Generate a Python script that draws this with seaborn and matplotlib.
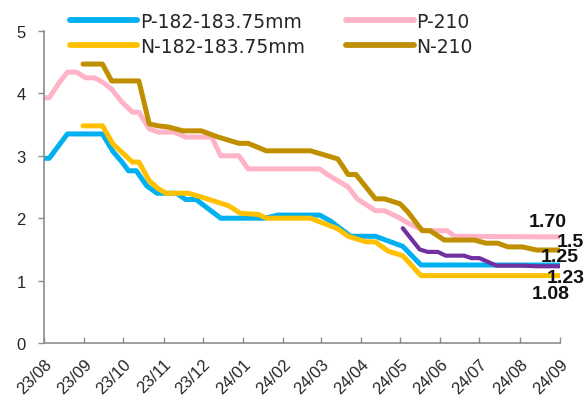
import pandas as pd
import seaborn as sns
import matplotlib.pyplot as plt
import matplotlib.dates as mdates

# data (breakpoints of each line)
p182_dates = ["2023-08-01", "2023-08-05", "2023-08-19", "2023-09-15", "2023-09-23", "2023-09-30",
              "2023-10-05", "2023-10-11", "2023-10-19", "2023-10-27", "2023-11-11", "2023-11-18",
              "2023-11-26", "2023-12-15", "2024-01-18", "2024-01-28", "2024-02-29", "2024-03-08",
              "2024-03-24", "2024-04-12", "2024-05-03", "2024-05-17", "2024-09-01"]
p182_vals = [2.96, 2.96, 3.35, 3.35, 3.07, 2.90, 2.76, 2.76, 2.52, 2.40, 2.40, 2.30,
             2.30, 2.00, 2.00, 2.05, 2.05, 1.96, 1.71, 1.71, 1.55, 1.25, 1.25]

n182_dates = ["2023-08-31", "2023-09-15", "2023-09-23", "2023-10-08", "2023-10-13", "2023-10-21",
              "2023-10-28", "2023-11-03", "2023-11-20", "2023-11-30", "2023-12-21", "2023-12-30",
              "2024-01-13", "2024-01-19", "2024-02-22", "2024-03-14", "2024-03-22", "2024-04-05",
              "2024-04-12", "2024-04-22", "2024-05-03", "2024-05-17", "2024-09-01"]
n182_vals = [3.48, 3.48, 3.19, 2.90, 2.90, 2.60, 2.47, 2.40, 2.40, 2.34, 2.20, 2.08,
             2.06, 2.00, 2.00, 1.83, 1.71, 1.62, 1.62, 1.47, 1.40, 1.08, 1.08]

p210_dates = ["2023-08-01", "2023-08-05", "2023-08-13", "2023-08-19", "2023-08-26", "2023-09-02",
              "2023-09-09", "2023-09-15", "2023-09-22", "2023-09-30", "2023-10-08", "2023-10-13",
              "2023-10-21", "2023-10-28", "2023-11-09", "2023-11-18", "2023-12-08", "2023-12-15",
              "2023-12-29", "2024-01-05", "2024-02-29", "2024-03-06", "2024-03-22", "2024-03-29",
              "2024-04-12", "2024-04-19", "2024-04-29", "2024-05-09", "2024-05-20", "2024-06-06",
              "2024-06-12", "2024-09-01"]
p210_vals = [3.93, 3.93, 4.18, 4.34, 4.34, 4.25, 4.25, 4.18, 4.07, 3.86, 3.70, 3.70,
             3.43, 3.38, 3.38, 3.30, 3.30, 3.00, 3.00, 2.79, 2.79, 2.70, 2.50, 2.31,
             2.12, 2.12, 2.02, 1.90, 1.80, 1.80, 1.71, 1.70]

n210_dates = ["2023-08-31", "2023-09-15", "2023-09-22", "2023-10-13", "2023-10-21", "2023-10-28",
              "2023-11-05", "2023-11-16", "2023-11-30", "2023-12-13", "2023-12-29", "2024-01-05",
              "2024-01-19", "2024-02-22", "2024-03-14", "2024-03-22", "2024-03-28", "2024-04-12",
              "2024-04-19", "2024-05-01", "2024-05-07", "2024-05-18", "2024-05-24", "2024-06-04",
              "2024-06-27", "2024-07-06", "2024-07-15", "2024-07-23", "2024-08-03", "2024-08-14",
              "2024-09-01"]
n210_vals = [4.47, 4.47, 4.20, 4.20, 3.51, 3.48, 3.46, 3.40, 3.40, 3.30, 3.20, 3.20,
             3.08, 3.08, 2.95, 2.70, 2.70, 2.31, 2.31, 2.23, 2.10, 1.80, 1.80, 1.65,
             1.65, 1.60, 1.60, 1.54, 1.54, 1.49, 1.49]

other_dates = ["2024-05-03", "2024-05-16", "2024-05-22", "2024-05-30", "2024-06-05", "2024-06-19",
               "2024-06-25", "2024-07-01", "2024-07-14", "2024-08-03", "2024-08-14", "2024-09-01"]
other_vals = [1.84, 1.50, 1.46, 1.46, 1.40, 1.40, 1.36, 1.36, 1.24, 1.24, 1.23, 1.23]

end_labels = ["1.70", "1.5", "1.25", "1.23", "1.08"]

sns.set_theme(style="white")
plt.rcParams['font.family'] = ['Liberation Sans', 'DejaVu Sans']

fig = plt.figure(figsize=(5.84, 4.10), dpi=100)
ax = fig.add_axes([44 / 584, 1 - 344 / 410, 516 / 584, 312 / 410])

series = [
    ("P-182-183.75mm", p182_dates, p182_vals, "#00B0F0", 3.6),
    ("N-182-183.75mm", n182_dates, n182_vals, "#FFC000", 3.6),
    ("P-210", p210_dates, p210_vals, "#FFB3C7", 3.6),
    ("N-210", n210_dates, n210_vals, "#BF8F00", 3.6),
]
for name, d, v, c, lw in series:
    sns.lineplot(x=pd.to_datetime(d), y=v, color=c, linewidth=lw, label=name, ax=ax)
sns.lineplot(x=pd.to_datetime(other_dates), y=other_vals, color="#7030A0", linewidth=3.0,
             legend=False, ax=ax)

# end-of-line value labels
ends = [
    (p210_dates, p210_vals, end_labels[0], (-9, 11), "center"),
    (n210_dates, n210_vals, end_labels[1], (-2, 6), "left"),
    (p182_dates, p182_vals, end_labels[2], (0, 6), "center"),
    (other_dates, other_vals, end_labels[3], (4, -8), "center"),
    (n182_dates, n182_vals, end_labels[4], (-7, -13), "center"),
]
for d, v, txt, off, ha in ends:
    ax.annotate(txt, xy=(pd.to_datetime(d[-1]), v[-1]), xytext=off, textcoords="offset points",
                ha=ha, va="center", fontsize=14, fontweight="bold", color="#111111",
                annotation_clip=False)

ax.set_ylim(0, 5)
ax.set_xlim(pd.Timestamp("2023-08-01"), pd.Timestamp("2024-09-01"))
ax.set_yticks([0, 1, 2, 3, 4, 5])
ax.xaxis.set_major_locator(mdates.MonthLocator())
ax.xaxis.set_major_formatter(mdates.DateFormatter("%y/%m"))
ax.set_xlabel("")
ax.set_ylabel("")

for s in ["top", "right"]:
    ax.spines[s].set_visible(False)
for s in ["left", "bottom"]:
    ax.spines[s].set_color("#8c8c8c")
    ax.spines[s].set_linewidth(1.2)

ax.tick_params(axis="y", direction="out", length=4, width=1, color="#8c8c8c",
               labelsize=12, pad=9, left=True)
ax.tick_params(axis="x", direction="in", length=4, width=1, color="#8c8c8c",
               labelsize=12, pad=9, bottom=True)
for lab in ax.get_xticklabels():
    lab.set_rotation(45)
    lab.set_ha("right")
    lab.set_rotation_mode("anchor")

leg = ax.legend(ncol=2, loc="upper left", bbox_to_anchor=(0.035, 1.085), frameon=False,
                handlelength=3.6, handletextpad=0.15, columnspacing=2.2, labelspacing=0.32,
                prop={"family": "DejaVu Sans", "size": 13.5}, borderaxespad=0)
for line in leg.get_lines():
    line.set_linewidth(4.2)
    line.set_solid_capstyle("round")

fig.savefig("out.png", dpi=100)
